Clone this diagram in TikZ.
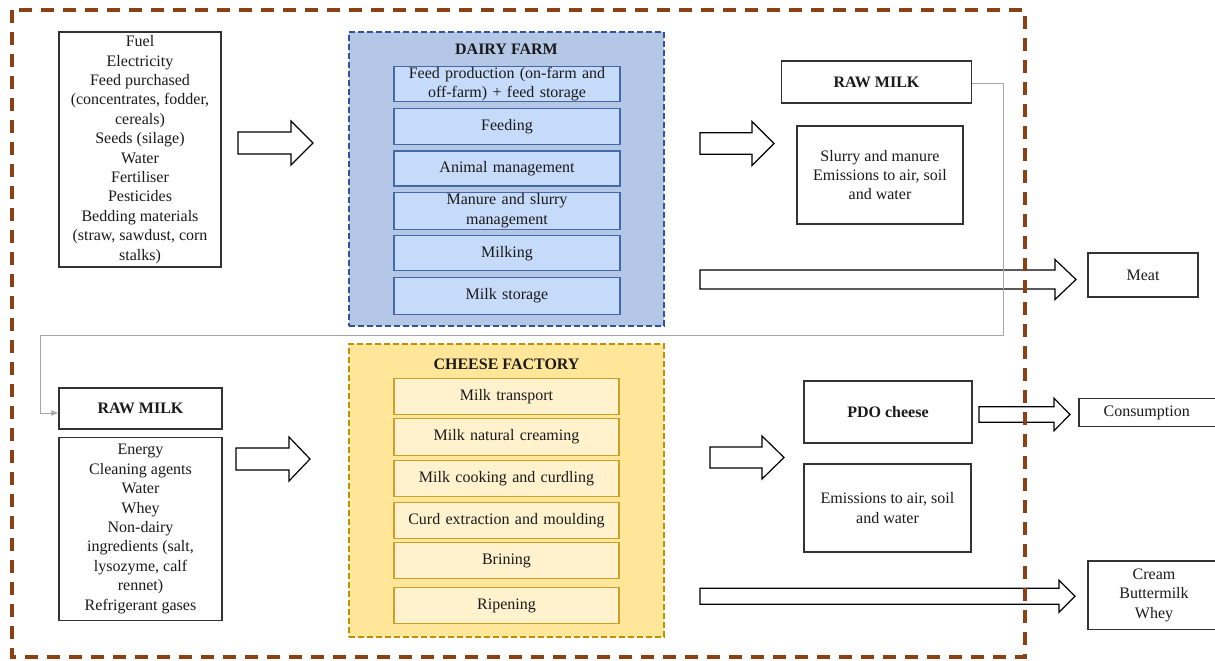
\documentclass[tikz,border=0pt]{standalone}
\usepackage{fontspec}
\setmainfont{Liberation Serif}
\usetikzlibrary{arrows.meta}
\definecolor{outerbrown}{RGB}{139,65,19}
\definecolor{dfborder}{RGB}{47,85,151}
\definecolor{dffill}{RGB}{180,199,231}
\definecolor{dfinner}{RGB}{198,218,250}
\definecolor{dfinnerb}{RGB}{68,104,170}
\definecolor{cfborder}{RGB}{191,144,0}
\definecolor{cffill}{RGB}{255,230,153}
\definecolor{cfinner}{RGB}{255,242,204}
\definecolor{cfinnerb}{RGB}{204,160,40}
\definecolor{linkgray}{RGB}{166,166,166}
\definecolor{txt}{RGB}{26,26,26}
\newcommand{\blockarr}[6]{%
  \draw[blk] (#1,#4-#5) -- (#2,#4-#5) -- (#2,#4-#6) -- (#3,#4) -- (#2,#4+#6) -- (#2,#4+#5) -- (#1,#4+#5) -- cycle;}
\begin{document}
\begin{tikzpicture}[x=1pt,y=-1pt,
  every node/.style={font=\fontsize{16}{19.4}\selectfont, text=txt, inner sep=0pt, align=center},
  plainbox/.style={draw=black!80, line width=1.2pt, fill=white},
  dfbox/.style={draw=dfinnerb, line width=1.1pt, fill=dfinner, minimum width=226pt, text width=222pt},
  cfbox/.style={draw=cfinnerb, line width=1.1pt, fill=cfinner, minimum width=225pt, text width=221pt},
  blk/.style={draw=black, line width=1.2pt, fill=white, line join=miter},
  titletext/.style={font=\bfseries\fontsize{16}{19.4}\selectfont},
  link/.style={draw=linkgray, line width=1pt}]
\clip (0,0) rectangle (1215,661);
\fill[white] (0,0) rectangle (1215,661);

% ---- Dairy farm ----
\node[draw=dfborder, fill=dffill, line width=1.4pt, dash pattern=on 6pt off 3pt,
      minimum width=315pt, minimum height=294pt] (farm) at (506.5,179) {};
\node[titletext] (farmtitle) at (506.5,49) {DAIRY FARM};
\node[dfbox, minimum height=34.6pt] (d1) at (507,84) {Feed production (on-farm and\\off-farm) + feed storage};
\node[dfbox, minimum height=36.3pt] (d2) at (507,126.2) {Feeding};
\node[dfbox, minimum height=35pt] (d3) at (507,168.5) {Animal management};
\node[dfbox, minimum height=37pt] (d4) at (507,210.8) {Manure and slurry\\management};
\node[dfbox, minimum height=35pt] (d5) at (507,253.2) {Milking};
\node[dfbox, minimum height=36.7pt] (d6) at (507,295.7) {Milk storage};

% ---- Cheese factory ----
\node[draw=cfborder, fill=cffill, line width=1.4pt, dash pattern=on 6pt off 3pt,
      minimum width=315pt, minimum height=293pt] (factory) at (506.5,490.5) {};
\node[titletext] (factorytitle) at (506.5,364.5) {CHEESE FACTORY};
\node[cfbox, minimum height=36pt] (c1) at (506.5,396.3) {Milk transport};
\node[cfbox, minimum height=36.7pt] (c2) at (506.5,436.7) {Milk natural creaming};
\node[cfbox, minimum height=36.4pt] (c3) at (506.5,478.5) {Milk cooking and curdling};
\node[cfbox, minimum height=36pt] (c4) at (506.5,520.3) {Curd extraction and moulding};
\node[cfbox, minimum height=36.4pt] (c5) at (506.5,560.5) {Brining};
\node[cfbox, minimum height=35.6pt] (c6) at (506.5,605.5) {Ripening};

% ---- Left inputs ----
\node[plainbox, minimum width=162pt, minimum height=235pt] (in1) at (140,149.5)
  {Fuel\\Electricity\\Feed purchased\\(concentrates, fodder,\\cereals)\\Seeds (silage)\\Water\\Fertiliser\\Pesticides\\Bedding materials\\(straw, sawdust, corn\\stalks)};
\node[plainbox, minimum width=163pt, minimum height=41pt] (raw2) at (140.5,408.5) {\textbf{RAW MILK}};
\node[plainbox, minimum width=163pt, minimum height=183pt] (in2) at (140.5,529)
  {Energy\\Cleaning agents\\Water\\Whey\\Non-dairy\\ingredients (salt,\\lysozyme, calf\\rennet)\\Refrigerant gases};

% ---- Right outputs ----
\node[plainbox, minimum width=190pt, minimum height=42pt] (raw1) at (876.5,82) {\textbf{RAW MILK}};
\node[plainbox, minimum width=166pt, minimum height=98pt] (slurry) at (880,175)
  {Slurry and manure\\Emissions to air, soil\\and water};
\node[plainbox, minimum width=110pt, minimum height=44pt] (meat) at (1143,275) {Meat};
\node[plainbox, minimum width=168pt, minimum height=62pt] (pdo) at (888,412) {\textbf{PDO cheese}};
\node[plainbox, minimum width=167pt, minimum height=88pt] (emis) at (887.5,508)
  {Emissions to air, soil\\and water};
\node[plainbox, minimum width=160pt, minimum height=28.5pt] (cons) at (1159,412.5) {};
\node (constext) at (1146.7,412.5) {Consumption};
\node[plainbox, minimum width=160pt, minimum height=68.5pt] (cream) at (1168,595.3) {};
\node (creamtext) at (1154,595.3) {Cream\\Buttermilk\\Whey};

% ---- Block arrows ----
\blockarr{238}{291}{313}{143}{11}{22}
\blockarr{700}{752}{774}{143.5}{10.7}{22}
\blockarr{700}{1055}{1076}{279.5}{9.5}{20}
\blockarr{236}{289}{310}{459}{11}{22}
\blockarr{710}{762}{784}{457.5}{10.5}{21.5}
\blockarr{979}{1054}{1070}{414.5}{7.8}{16.2}
\blockarr{700}{1059}{1075}{596.3}{8}{16}

% ---- Raw milk link ----
\coordinate (lk1) at (1003,335);
\coordinate (lk2) at (40,335);
\draw[link, -{Latex[length=7pt,width=6pt]}] ([yshift=-1.5pt]raw1.east) -| (lk1) -- (lk2) |- ([yshift=-4.5pt]raw2.west);

% ---- Outer system boundary ----
\draw[outerbrown, line width=3.2pt, dash pattern=on 13pt off 9pt] (12,10) rectangle (1025,657);
\end{tikzpicture}
\end{document}
